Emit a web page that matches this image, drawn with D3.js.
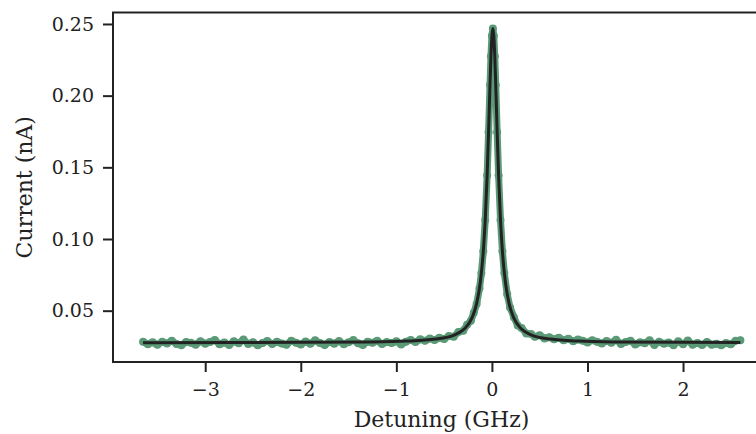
<!DOCTYPE html>
<html>
<head>
<meta charset="utf-8">
<script src="https://cdn.jsdelivr.net/npm/d3@7"></script>
<style>
  body { margin: 0; background: #fff; }
  svg { display: block; }
</style>
</head>
<body>
<div id="chart"></div>
<script>
var leftX = [-3.65, -3.60, -3.55, -3.50, -3.45, -3.40, -3.35, -3.30, -3.25, -3.20,
             -3.15, -3.10, -3.05, -3.00, -2.95, -2.90, -2.85, -2.80, -2.75, -2.70,
             -2.65, -2.60, -2.55, -2.50, -2.45, -2.40, -2.35, -2.30, -2.25, -2.20,
             -2.15, -2.10, -2.05, -2.00, -1.95, -1.90, -1.85, -1.80, -1.75, -1.70,
             -1.65, -1.60, -1.55, -1.50, -1.45, -1.40, -1.35, -1.30, -1.25, -1.20,
             -1.15, -1.10, -1.05, -1.00, -0.95,
             -0.90, -0.85, -0.80, -0.75, -0.70, -0.65, -0.60, -0.55, -0.50, -0.45];
var leftY = [0.0283, 0.0266, 0.0279, 0.0262, 0.0284, 0.0271, 0.0290, 0.0268, 0.0259, 0.0281,
             0.0276, 0.0263, 0.0287, 0.0270, 0.0282, 0.0296, 0.0265, 0.0278, 0.0261, 0.0286,
             0.0273, 0.0299, 0.0268, 0.0280, 0.0258, 0.0275, 0.0289, 0.0267, 0.0283, 0.0271,
             0.0262, 0.0291, 0.0277, 0.0264, 0.0285, 0.0269, 0.0293, 0.0274, 0.0260, 0.0282,
             0.0270, 0.0288, 0.0266, 0.0279, 0.0295, 0.0272, 0.0261, 0.0284, 0.0276, 0.0290,
             0.0267, 0.0281, 0.0274, 0.0286, 0.0264,
             0.0284, 0.0296, 0.0281, 0.0300, 0.0290, 0.0306, 0.0295, 0.0311, 0.0302, 0.0324];

var peakX = [-0.40, -0.35, -0.30, -0.26, -0.22, -0.19, -0.16, -0.13, -0.11, -0.09,
             -0.07, -0.05, -0.035, -0.02, -0.01, 0.00, 0.01, 0.02, 0.03, 0.04,
             0.055, 0.07, 0.09, 0.11, 0.13, 0.16, 0.19, 0.23, 0.27, 0.31, 0.36, 0.41];
var peakY = [0.0318, 0.0352, 0.0360, 0.0401, 0.0430, 0.0485, 0.0546, 0.0656, 0.0762, 0.0914,
             0.1132, 0.1444, 0.1744, 0.2074, 0.2274, 0.2417, 0.2469, 0.2417, 0.2274, 0.2074,
             0.1744, 0.1444, 0.1132, 0.0914, 0.0762, 0.0615, 0.0523, 0.0455, 0.0396, 0.0380, 0.0341, 0.0337];

var rightX = [0.45, 0.50, 0.55, 0.60, 0.65, 0.70, 0.75, 0.80, 0.85, 0.90,
              0.95, 1.00, 1.05, 1.10, 1.15, 1.20, 1.25, 1.30, 1.35, 1.40,
              1.45, 1.50, 1.55, 1.60, 1.65, 1.70, 1.75, 1.80, 1.85, 1.90,
              1.95, 2.00, 2.05, 2.10, 2.15, 2.20, 2.25, 2.30, 2.35, 2.40,
              2.45, 2.50, 2.55, 2.60];
var rightY = [0.0318, 0.0329, 0.0306, 0.0314, 0.0301, 0.0312, 0.0293, 0.0305, 0.0287, 0.0299,
              0.0291, 0.0278, 0.0294, 0.0283, 0.0271, 0.0289, 0.0276, 0.0297, 0.0268, 0.0282,
              0.0290, 0.0264, 0.0279, 0.0273, 0.0293, 0.0261, 0.0284, 0.0270, 0.0278, 0.0259,
              0.0286, 0.0266, 0.0292, 0.0263, 0.0275, 0.0260, 0.0281, 0.0262, 0.0269, 0.0258,
              0.0274, 0.0265, 0.0290, 0.0294];

// lorentzian fit (black), sampled
var fitX = [-3.65, -1.99, -1.29, -0.89, -0.59, -0.39, -0.29, -0.21, -0.16, -0.12,
            -0.09, -0.07, -0.05, -0.035, -0.02, -0.01, 0.00, 0.01, 0.02, 0.03,
            0.04, 0.055, 0.07, 0.09, 0.11, 0.14, 0.18, 0.23, 0.31, 0.41,
            0.61, 0.91, 1.31, 2.01, 2.60];
var fitY = [0.0277, 0.0279, 0.0282, 0.0288, 0.0302, 0.0332, 0.0372, 0.0448, 0.0549, 0.0705,
            0.0914, 0.1132, 0.1444, 0.1744, 0.2074, 0.2274, 0.2417, 0.2469, 0.2417, 0.2274,
            0.2074, 0.1744, 0.1444, 0.1132, 0.0914, 0.0705, 0.0549, 0.0448, 0.0372, 0.0332,
            0.0302, 0.0288, 0.0282, 0.0279, 0.0278];

var xTicks = [-3, -2, -1, 0, 1, 2];
var yTicks = [0.05, 0.10, 0.15, 0.20, 0.25];

var w = 756;
var h = 434;
var padL = 113, padR = 770, padT = 12.5, padB = 362;
var font = "'DejaVu Serif', serif";

var measured = [];
var allY = leftY.concat(peakY, rightY);
leftX.concat(peakX, rightX).forEach(function(x, i) {
    measured.push({x: x, y: allY[i]});
});
var fit = fitX.map(function(x, i) { return {x: x, y: fitY[i]}; });

var xScale = d3.scaleLinear()
    .domain([-3.965, 2.91])
    .range([padL, padR]);

var yScale = d3.scaleLinear()
    .domain([0.0142, 0.258])
    .range([padB, padT]);

var svg = d3.select("#chart")
    .append("svg")
    .attr("width", w)
    .attr("height", h);

var green = "#5a9a77";

// measured data
svg.append("path")
    .datum(measured)
    .attr("d", d3.line()
        .x(function(d) { return xScale(d.x); })
        .y(function(d) { return yScale(d.y); }))
    .attr("fill", "none")
    .attr("stroke", green)
    .attr("stroke-width", 7)
    .attr("stroke-linejoin", "round")
    .attr("stroke-linecap", "round");

svg.selectAll("circle.pt")
    .data(measured)
    .enter()
    .append("circle")
    .attr("class", "pt")
    .attr("cx", function(d) { return xScale(d.x); })
    .attr("cy", function(d) { return yScale(d.y); })
    .attr("r", 4)
    .attr("fill", green);

// fit
svg.append("path")
    .datum(fit)
    .attr("d", d3.line()
        .x(function(d) { return xScale(d.x); })
        .y(function(d) { return yScale(d.y); })
        .curve(d3.curveMonotoneX))
    .attr("fill", "none")
    .attr("stroke", "#222")
    .attr("stroke-width", 3)
    .attr("stroke-linejoin", "round");

//// AXES ////
var xAxis = d3.axisBottom(xScale)
    .tickValues(xTicks)
    .tickFormat(d3.format("d"))
    .tickSize(10)
    .tickPadding(11);

var yAxis = d3.axisLeft(yScale)
    .tickValues(yTicks)
    .tickFormat(d3.format(".2f"))
    .tickSize(10)
    .tickPadding(9);

var gx = svg.append("g")
    .attr("transform", "translate(0," + padB + ")")
    .call(xAxis);

var gy = svg.append("g")
    .attr("transform", "translate(" + padL + ",0)")
    .call(yAxis);

[gx, gy].forEach(function(g) {
    g.select(".domain").remove();
    g.selectAll(".tick line").attr("stroke", "#222").attr("stroke-width", 2);
    g.selectAll(".tick text")
        .attr("fill", "#222")
        .style("font-family", font)
        .style("font-size", "19px");
});

// frame (right side falls outside the picture)
svg.append("rect")
    .attr("x", padL)
    .attr("y", padT)
    .attr("width", padR - padL)
    .attr("height", padB - padT)
    .attr("fill", "none")
    .attr("stroke", "#222")
    .attr("stroke-width", 2);

//// AXIS LABELS ////
svg.append("text")
    .attr("x", (padL + padR) / 2)
    .attr("y", 427)
    .attr("text-anchor", "middle")
    .style("font-family", font)
    .style("font-size", "22px")
    .attr("fill", "#222")
    .text("Detuning (GHz)");

svg.append("text")
    .attr("transform", "translate(32," + ((padT + padB) / 2) + ") rotate(-90)")
    .attr("text-anchor", "middle")
    .style("font-family", font)
    .style("font-size", "22px")
    .attr("fill", "#222")
    .text("Current (nA)");
</script>
</body>
</html>
